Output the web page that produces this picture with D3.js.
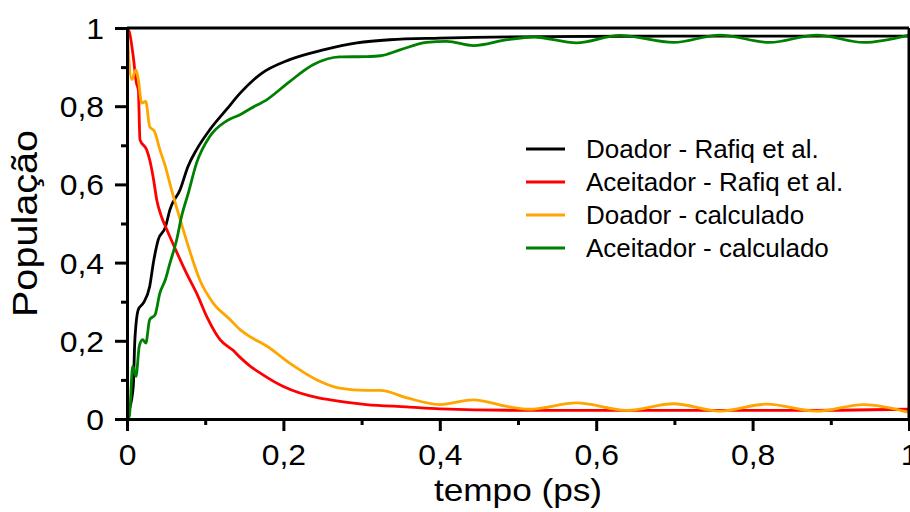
<!DOCTYPE html>
<html>
<head>
<meta charset="utf-8">
<script src="https://cdn.jsdelivr.net/npm/d3@7"></script>
<style>
  body { margin: 0; background: #fff; }
  svg { display: block; font-family: "Liberation Sans", Arial, Helvetica, sans-serif; }
  .axis path, .axis line { stroke: #000; stroke-width: 3; }
</style>
</head>
<body>
<svg id="chart" width="910" height="512"></svg>
<script>
// Data (time in ps, population)
const seriesNames = ["Doador - Rafiq et al.", "Aceitador - Rafiq et al.", "Doador - calculado", "Aceitador - calculado"];
const seriesColors = ["#000000", "#ff0000", "#ffa500", "#008000"];

const tDoadorRafiq = [0, 0.002, 0.008, 0.010, 0.0145, 0.021, 0.029, 0.034, 0.040, 0.049, 0.055, 0.068, 0.078, 0.089, 0.106, 0.127, 0.145, 0.170, 0.208, 0.251, 0.294, 0.336, 0.40, 0.528, 0.70, 1.0];
const pDoadorRafiq = [0, 0.016, 0.083, 0.20, 0.28, 0.297, 0.339, 0.403, 0.459, 0.49, 0.536, 0.587, 0.646, 0.689, 0.74, 0.791, 0.834, 0.881, 0.919, 0.944, 0.962, 0.970, 0.974, 0.978, 0.979, 0.979];

const tAceitadorRafiq = [0, 0.003, 0.008, 0.012, 0.0145, 0.0166, 0.025, 0.029, 0.034, 0.038, 0.044, 0.051, 0.064, 0.076, 0.089, 0.102, 0.119, 0.136, 0.145, 0.157, 0.170, 0.20, 0.245, 0.26, 0.306, 0.358, 0.40, 0.528, 0.70, 0.85, 1.0];
const pAceitadorRafiq = [1.0, 0.99, 0.927, 0.86, 0.842, 0.714, 0.689, 0.663, 0.612, 0.561, 0.518, 0.484, 0.425, 0.373, 0.322, 0.262, 0.203, 0.175, 0.157, 0.136, 0.118, 0.083, 0.054, 0.049, 0.037, 0.031, 0.026, 0.022, 0.022, 0.022, 0.025];

const tDoadorCalc = [0, 0.006, 0.0115, 0.0145, 0.0188, 0.024, 0.029, 0.035, 0.042, 0.049, 0.057, 0.068, 0.081, 0.093, 0.110, 0.132, 0.145, 0.157, 0.179, 0.208, 0.243, 0.272, 0.306, 0.324, 0.358, 0.40, 0.443, 0.486, 0.515, 0.575, 0.639, 0.699, 0.758, 0.818, 0.882, 0.942, 1.0];
const pDoadorCalc = [1.0, 0.868, 0.893, 0.868, 0.808, 0.812, 0.748, 0.736, 0.689, 0.646, 0.586, 0.51, 0.425, 0.356, 0.297, 0.254, 0.228, 0.211, 0.186, 0.143, 0.10, 0.079, 0.073, 0.073, 0.054, 0.037, 0.049, 0.032, 0.025, 0.041, 0.022, 0.039, 0.02, 0.038, 0.02, 0.037, 0.017];

const tAceitadorCalc = [0, 0.003, 0.0073, 0.0115, 0.0157, 0.020, 0.024, 0.029, 0.036, 0.042, 0.049, 0.055, 0.0636, 0.070, 0.078, 0.089, 0.106, 0.127, 0.145, 0.157, 0.179, 0.208, 0.238, 0.272, 0.306, 0.324, 0.349, 0.383, 0.409, 0.443, 0.486, 0.52, 0.575, 0.63, 0.699, 0.758, 0.822, 0.882, 0.942, 1.0];
const pAceitadorCalc = [0, 0.007, 0.135, 0.109, 0.186, 0.203, 0.194, 0.254, 0.267, 0.322, 0.356, 0.399, 0.459, 0.52, 0.575, 0.655, 0.723, 0.762, 0.779, 0.793, 0.817, 0.863, 0.906, 0.926, 0.927, 0.929, 0.944, 0.963, 0.966, 0.955, 0.97, 0.977, 0.962, 0.981, 0.963, 0.982, 0.963, 0.982, 0.963, 0.982];

const xTicks = [0, 0.2, 0.4, 0.6, 0.8, 1];
const xMinorTicks = [0.1, 0.3, 0.5, 0.7, 0.9];
const yTicks = [0, 0.2, 0.4, 0.6, 0.8, 1];
const yMinorTicks = [0.1, 0.3, 0.5, 0.7, 0.9];

const fmt = d => String(d).replace(".", ",");

const margin = {left: 127, right: 1, top: 28, bottom: 93};
const width = 910, height = 512;

const svg = d3.select("#chart");

const x = d3.scaleLinear().domain([0, 1]).range([margin.left, width - margin.right]);
const y = d3.scaleLinear().domain([0, 1]).range([height - margin.bottom, margin.top]);

// series list built from the arrays
const series = [
  {t: tDoadorRafiq, p: pDoadorRafiq},
  {t: tAceitadorRafiq, p: pAceitadorRafiq},
  {t: tDoadorCalc, p: pDoadorCalc},
  {t: tAceitadorCalc, p: pAceitadorCalc}
].map((s, i) => ({name: seriesNames[i], color: seriesColors[i],
                  values: s.t.map((t, j) => ({t: t, p: s.p[j]}))}));

const line = d3.line()
  .x(d => x(d.t))
  .y(d => y(d.p))
  .curve(d3.curveMonotoneX);

svg.append("clipPath").attr("id", "clip")
  .append("rect")
  .attr("x", x(0)).attr("y", y(1) - 2)
  .attr("width", x(1) - x(0)).attr("height", y(0) - y(1) + 2);

svg.append("g")
  .attr("clip-path", "url(#clip)")
  .selectAll("path")
  .data(series)
  .enter()
  .append("path")
    .attr("d", d => line(d.values))
    .attr("fill", "none")
    .attr("stroke", d => d.color)
    .attr("stroke-width", 2.8);

// frame (top and right)
svg.append("line")
  .attr("x1", x(0)).attr("x2", x(1)).attr("y1", y(1)).attr("y2", y(1))
  .attr("stroke", "#000").attr("stroke-width", 3);
svg.append("line")
  .attr("x1", x(1)).attr("x2", x(1)).attr("y1", y(1)).attr("y2", y(0))
  .attr("stroke", "#000").attr("stroke-width", 3);

// minor ticks
svg.append("g").attr("class", "axis")
  .attr("transform", `translate(0,${y(0)})`)
  .call(d3.axisBottom(x).tickValues(xMinorTicks).tickSize(6).tickSizeOuter(0).tickFormat(""))
  .select(".domain").remove();
svg.append("g").attr("class", "axis")
  .attr("transform", `translate(${x(0)},0)`)
  .call(d3.axisLeft(y).tickValues(yMinorTicks).tickSize(6).tickSizeOuter(0).tickFormat(""))
  .select(".domain").remove();

// major axes
const xAxis = svg.append("g").attr("class", "axis")
  .attr("transform", `translate(0,${y(0)})`)
  .call(d3.axisBottom(x).tickValues(xTicks).tickSize(12).tickSizeOuter(0).tickFormat(fmt));
xAxis.selectAll("text")
  .attr("y", 46).attr("dy", 0)
  .attr("font-size", 29)
  .attr("font-family", "Liberation Sans, Arial, sans-serif")
  .attr("fill", "#000")
  .attr("transform", "scale(1.1,1)");

const yAxis = svg.append("g").attr("class", "axis")
  .attr("transform", `translate(${x(0)},0)`)
  .call(d3.axisLeft(y).tickValues(yTicks).tickSize(12).tickSizeOuter(0).tickFormat(fmt));
yAxis.selectAll("text")
  .attr("x", -23 / 1.1).attr("dy", "0.36em")
  .attr("font-size", 29)
  .attr("font-family", "Liberation Sans, Arial, sans-serif")
  .attr("fill", "#000")
  .attr("transform", "scale(1.1,1)");

// axis titles
svg.append("text")
  .attr("transform", `translate(${(x(0) + x(1)) / 2},501) scale(1.1,1)`)
  .attr("text-anchor", "middle")
  .attr("font-size", 32)
  .text("tempo (ps)");

svg.append("text")
  .attr("transform", `translate(37,${(y(0) + y(1)) / 2}) rotate(-90) scale(1.1,1)`)
  .attr("text-anchor", "middle")
  .attr("font-size", 36)
  .text("População");

// legend
const legend = svg.append("g").attr("transform", "translate(526,149)");
const rows = legend.selectAll("g")
  .data(series)
  .enter()
  .append("g")
    .attr("transform", (d, i) => `translate(0,${i * 33})`);
rows.append("line")
  .attr("x1", 0).attr("x2", 39)
  .attr("stroke", d => d.color)
  .attr("stroke-width", 2.8);
rows.append("text")
  .attr("x", 60).attr("y", 9)
  .attr("font-size", 26)
  .text(d => d.name);
</script>
</body>
</html>
